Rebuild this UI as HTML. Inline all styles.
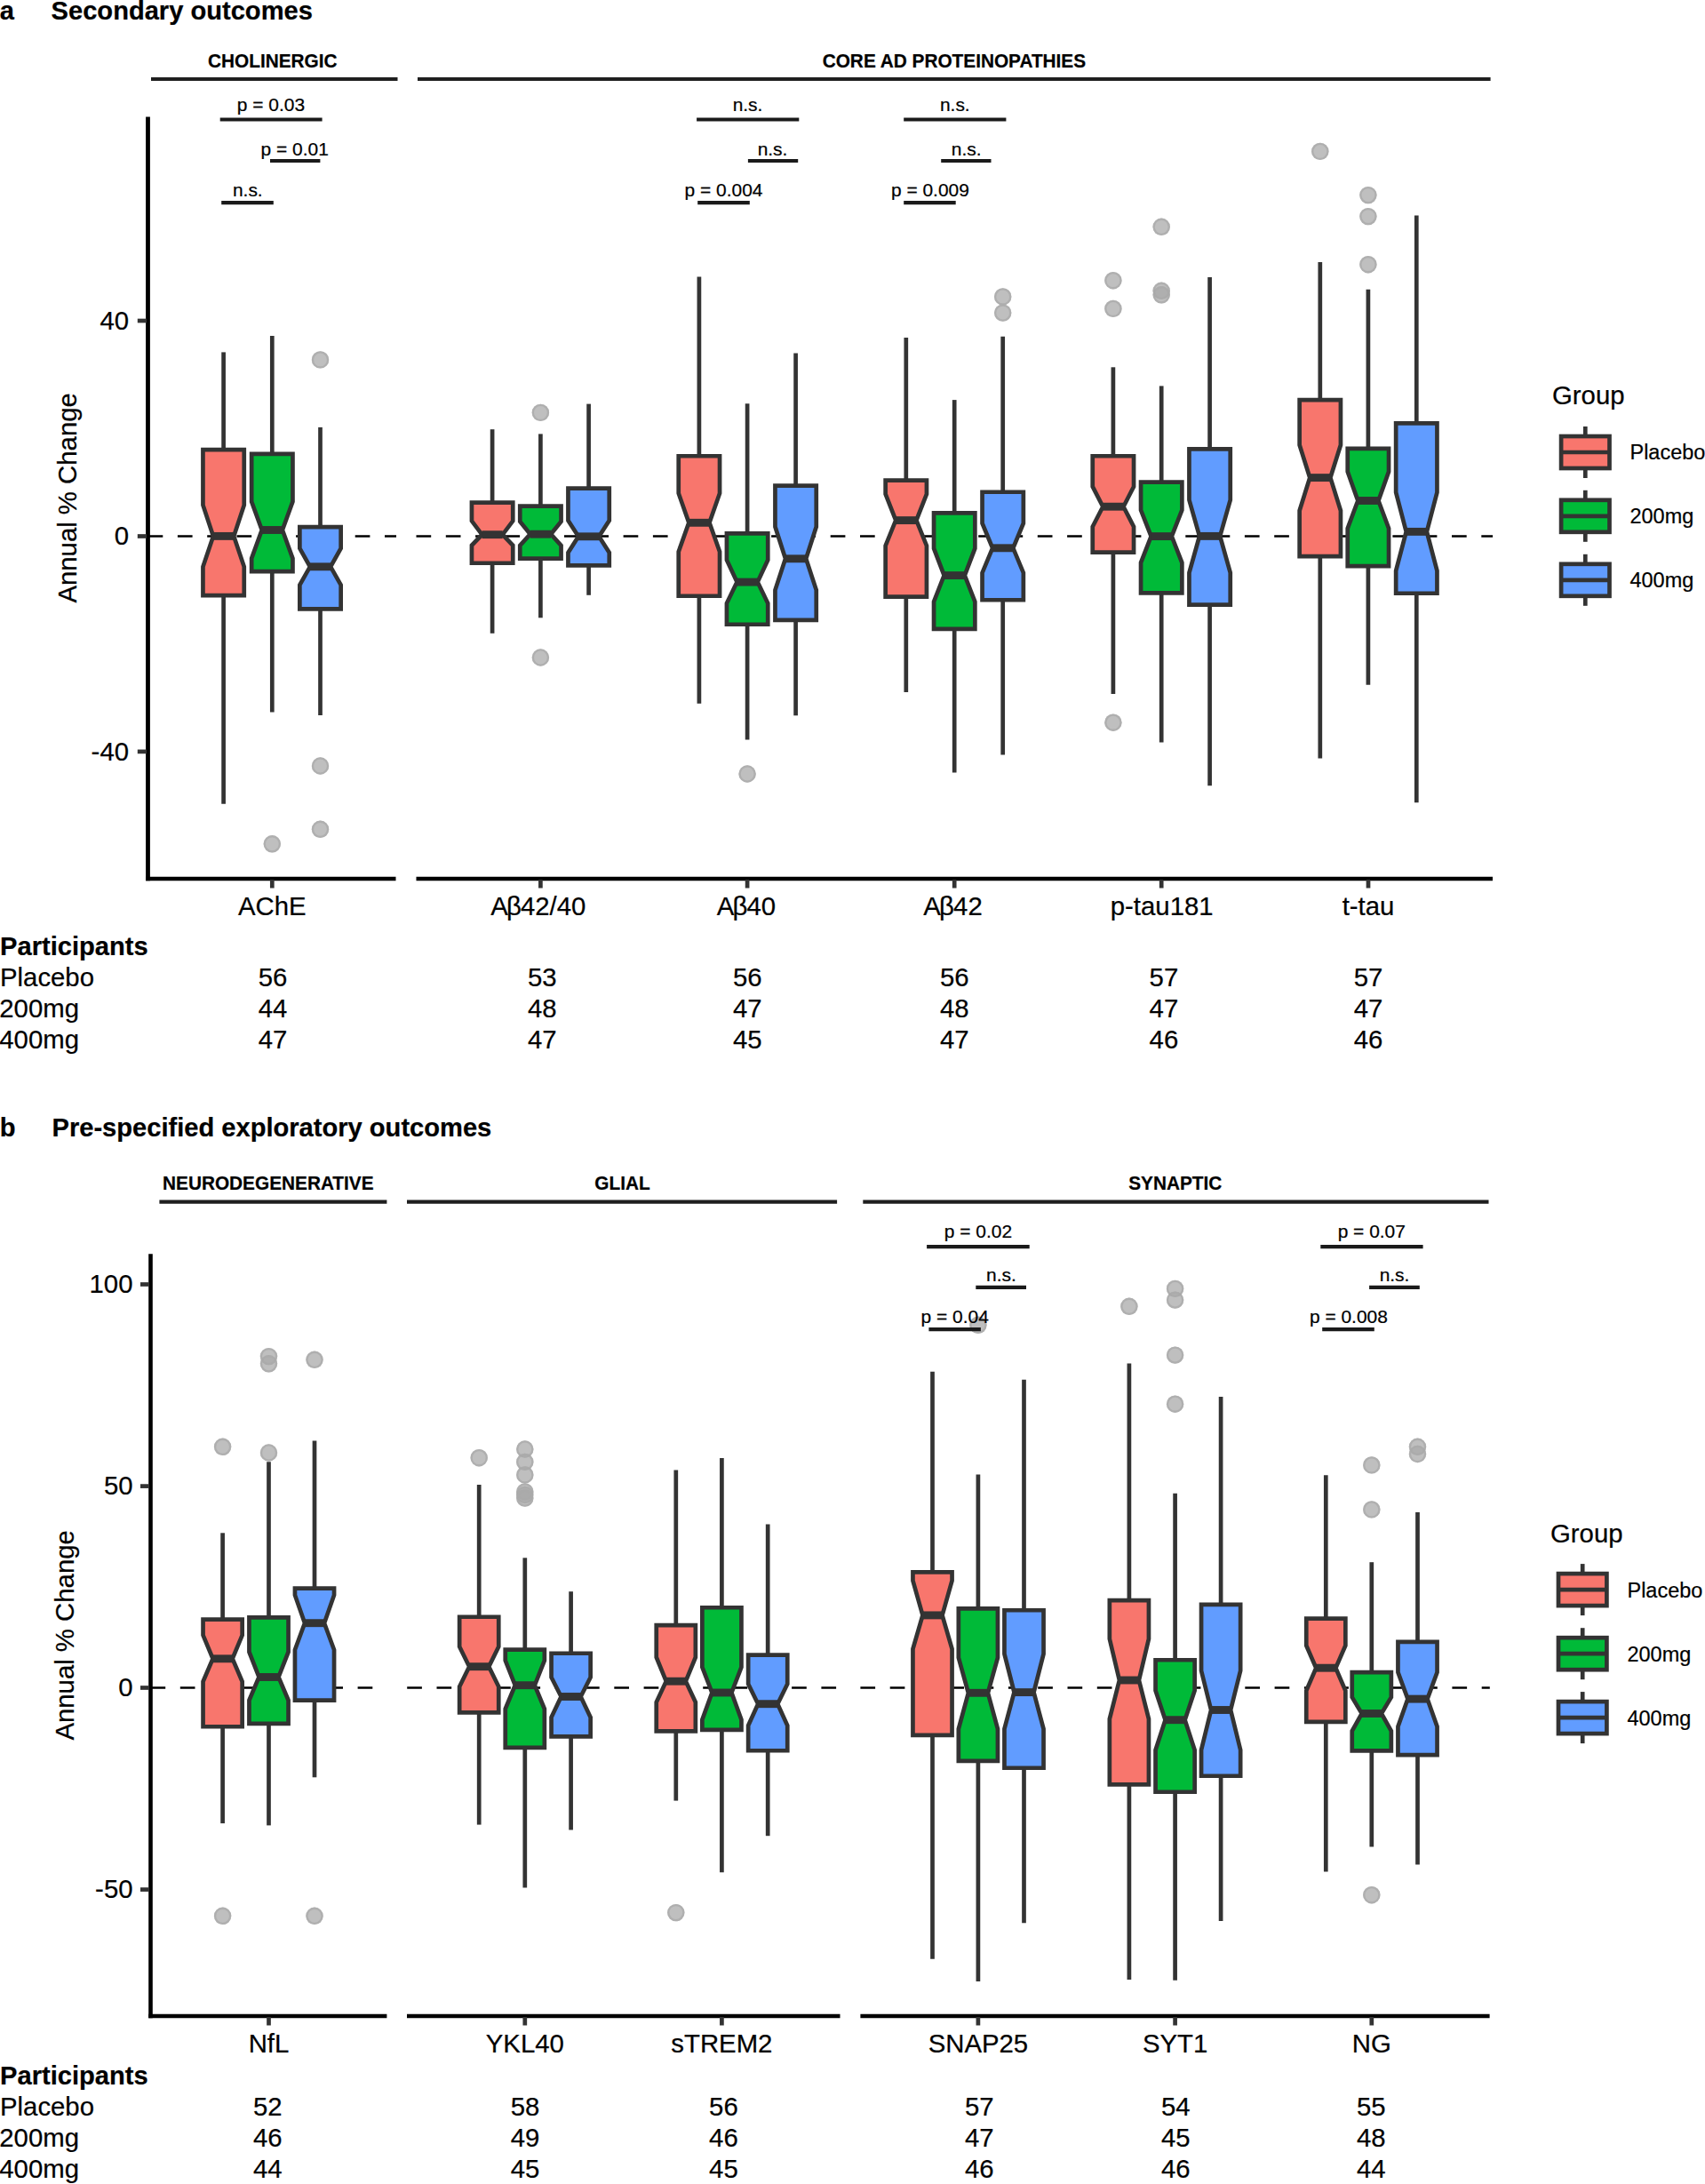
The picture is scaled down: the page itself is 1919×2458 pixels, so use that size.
<!DOCTYPE html>
<html lang="en">
<head>
<meta charset="utf-8">
<title>Annual % change in biomarkers</title>
<style>html,body{margin:0;padding:0;background:#fff}svg{display:block}text{stroke:#000;stroke-width:.22px}</style>
</head>
<body>
<svg width="1919" height="2458" viewBox="0 0 1919 2458" font-family='"Liberation Sans", Arial, Helvetica, sans-serif' fill="#000">
<rect width="1919" height="2458" fill="#fff"/>
<text x="-0.3" y="21.6" font-size="29.1" text-anchor="start" font-weight="bold">a</text>
<text x="57.6" y="21.6" font-size="29.1" text-anchor="start" font-weight="bold">Secondary outcomes</text>
<line x1="170" y1="89" x2="447.5" y2="89" stroke="#1f1f1f" stroke-width="4.1"/>
<line x1="470" y1="89" x2="1677.6" y2="89" stroke="#1f1f1f" stroke-width="4.1"/>
<text transform="translate(306.8 76.2) scale(1 1.085)" font-size="20.8" text-anchor="middle" font-weight="bold" stroke="#000" stroke-width="0.3">CHOLINERGIC</text>
<text transform="translate(1073.9 76.2) scale(1 1.085)" font-size="20.8" text-anchor="middle" font-weight="bold" stroke="#000" stroke-width="0.3">CORE AD PROTEINOPATHIES</text>
<line x1="166.6" y1="603.5" x2="446" y2="603.5" stroke="#000" stroke-width="2.6" stroke-dasharray="16.7 16.6"/>
<line x1="468.5" y1="603.5" x2="1680.1" y2="603.5" stroke="#000" stroke-width="2.6" stroke-dasharray="16.7 16.6"/>
<line x1="251.6" y1="396.4" x2="251.6" y2="506.05" stroke="#333333" stroke-width="4.7"/>
<line x1="251.6" y1="670.15" x2="251.6" y2="904.8" stroke="#333333" stroke-width="4.7"/>
<polygon points="228.45,506.05 274.75,506.05 274.75,568.4 263.18,603.4 274.75,637.8 274.75,670.15 228.45,670.15 228.45,637.8 240.03,603.4 228.45,568.4" fill="#F8766D" stroke="#333333" stroke-width="4.7" stroke-linejoin="miter"/>
<line x1="240.03" y1="603.4" x2="263.18" y2="603.4" stroke="#333333" stroke-width="8.9"/>
<circle cx="306.3" cy="949.8" r="9.7" fill="#aaa" fill-opacity=".75"/><circle cx="306.3" cy="949.8" r="8.55" fill="none" stroke="#aaa" stroke-opacity=".75" stroke-width="2.3"/>
<line x1="306.3" y1="378" x2="306.3" y2="510.95" stroke="#333333" stroke-width="4.7"/>
<line x1="306.3" y1="643.05" x2="306.3" y2="801.6" stroke="#333333" stroke-width="4.7"/>
<polygon points="283.15,510.95 329.45,510.95 329.45,564.6 317.88,596.5 329.45,628.4 329.45,643.05 283.15,643.05 283.15,628.4 294.73,596.5 283.15,564.6" fill="#00BA38" stroke="#333333" stroke-width="4.7" stroke-linejoin="miter"/>
<line x1="294.73" y1="596.5" x2="317.88" y2="596.5" stroke="#333333" stroke-width="8.9"/>
<circle cx="360.5" cy="404.9" r="9.7" fill="#aaa" fill-opacity=".75"/><circle cx="360.5" cy="404.9" r="8.55" fill="none" stroke="#aaa" stroke-opacity=".75" stroke-width="2.3"/>
<circle cx="360.5" cy="862" r="9.7" fill="#aaa" fill-opacity=".75"/><circle cx="360.5" cy="862" r="8.55" fill="none" stroke="#aaa" stroke-opacity=".75" stroke-width="2.3"/>
<circle cx="360.5" cy="933.3" r="9.7" fill="#aaa" fill-opacity=".75"/><circle cx="360.5" cy="933.3" r="8.55" fill="none" stroke="#aaa" stroke-opacity=".75" stroke-width="2.3"/>
<line x1="360.5" y1="480.9" x2="360.5" y2="593.15" stroke="#333333" stroke-width="4.7"/>
<line x1="360.5" y1="685.45" x2="360.5" y2="805" stroke="#333333" stroke-width="4.7"/>
<polygon points="337.35,593.15 383.65,593.15 383.65,617.2 372.07,637.8 383.65,658.4 383.65,685.45 337.35,685.45 337.35,658.4 348.93,637.8 337.35,617.2" fill="#619CFF" stroke="#333333" stroke-width="4.7" stroke-linejoin="miter"/>
<line x1="348.93" y1="637.8" x2="372.07" y2="637.8" stroke="#333333" stroke-width="8.9"/>
<line x1="554.1" y1="483.2" x2="554.1" y2="565.55" stroke="#333333" stroke-width="4.7"/>
<line x1="554.1" y1="633.75" x2="554.1" y2="712.8" stroke="#333333" stroke-width="4.7"/>
<polygon points="530.95,565.55 577.25,565.55 577.25,586.3 565.68,601.7 577.25,613.8 577.25,633.75 530.95,633.75 530.95,613.8 542.52,601.7 530.95,586.3" fill="#F8766D" stroke="#333333" stroke-width="4.7" stroke-linejoin="miter"/>
<line x1="542.52" y1="601.7" x2="565.68" y2="601.7" stroke="#333333" stroke-width="8.9"/>
<circle cx="608.4" cy="464.4" r="9.7" fill="#aaa" fill-opacity=".75"/><circle cx="608.4" cy="464.4" r="8.55" fill="none" stroke="#aaa" stroke-opacity=".75" stroke-width="2.3"/>
<circle cx="608.4" cy="740" r="9.7" fill="#aaa" fill-opacity=".75"/><circle cx="608.4" cy="740" r="8.55" fill="none" stroke="#aaa" stroke-opacity=".75" stroke-width="2.3"/>
<line x1="608.4" y1="488.4" x2="608.4" y2="569.65" stroke="#333333" stroke-width="4.7"/>
<line x1="608.4" y1="628.55" x2="608.4" y2="695.3" stroke="#333333" stroke-width="4.7"/>
<polygon points="585.25,569.65 631.55,569.65 631.55,586.9 619.98,601.2 631.55,613.8 631.55,628.55 585.25,628.55 585.25,613.8 596.82,601.2 585.25,586.9" fill="#00BA38" stroke="#333333" stroke-width="4.7" stroke-linejoin="miter"/>
<line x1="596.82" y1="601.2" x2="619.98" y2="601.2" stroke="#333333" stroke-width="8.9"/>
<line x1="662.6" y1="454.6" x2="662.6" y2="549.65" stroke="#333333" stroke-width="4.7"/>
<line x1="662.6" y1="636.35" x2="662.6" y2="669.8" stroke="#333333" stroke-width="4.7"/>
<polygon points="639.45,549.65 685.75,549.65 685.75,585.7 674.18,603.8 685.75,622 685.75,636.35 639.45,636.35 639.45,622 651.02,603.8 639.45,585.7" fill="#619CFF" stroke="#333333" stroke-width="4.7" stroke-linejoin="miter"/>
<line x1="651.02" y1="603.8" x2="674.18" y2="603.8" stroke="#333333" stroke-width="8.9"/>
<line x1="786.9" y1="311.6" x2="786.9" y2="513.25" stroke="#333333" stroke-width="4.7"/>
<line x1="786.9" y1="670.75" x2="786.9" y2="791.8" stroke="#333333" stroke-width="4.7"/>
<polygon points="763.75,513.25 810.05,513.25 810.05,555.2 798.48,588.3 810.05,620.9 810.05,670.75 763.75,670.75 763.75,620.9 775.32,588.3 763.75,555.2" fill="#F8766D" stroke="#333333" stroke-width="4.7" stroke-linejoin="miter"/>
<line x1="775.32" y1="588.3" x2="798.48" y2="588.3" stroke="#333333" stroke-width="8.9"/>
<circle cx="841.1" cy="871" r="9.7" fill="#aaa" fill-opacity=".75"/><circle cx="841.1" cy="871" r="8.55" fill="none" stroke="#aaa" stroke-opacity=".75" stroke-width="2.3"/>
<line x1="841.1" y1="454.2" x2="841.1" y2="600.35" stroke="#333333" stroke-width="4.7"/>
<line x1="841.1" y1="702.75" x2="841.1" y2="832.4" stroke="#333333" stroke-width="4.7"/>
<polygon points="817.95,600.35 864.25,600.35 864.25,630.3 852.68,655.1 864.25,679.1 864.25,702.75 817.95,702.75 817.95,679.1 829.52,655.1 817.95,630.3" fill="#00BA38" stroke="#333333" stroke-width="4.7" stroke-linejoin="miter"/>
<line x1="829.52" y1="655.1" x2="852.68" y2="655.1" stroke="#333333" stroke-width="8.9"/>
<line x1="895.6" y1="397.6" x2="895.6" y2="546.65" stroke="#333333" stroke-width="4.7"/>
<line x1="895.6" y1="697.85" x2="895.6" y2="805.3" stroke="#333333" stroke-width="4.7"/>
<polygon points="872.45,546.65 918.75,546.65 918.75,592.8 907.18,628.8 918.75,664.1 918.75,697.85 872.45,697.85 872.45,664.1 884.02,628.8 872.45,592.8" fill="#619CFF" stroke="#333333" stroke-width="4.7" stroke-linejoin="miter"/>
<line x1="884.02" y1="628.8" x2="907.18" y2="628.8" stroke="#333333" stroke-width="8.9"/>
<line x1="1019.8" y1="379.9" x2="1019.8" y2="540.65" stroke="#333333" stroke-width="4.7"/>
<line x1="1019.8" y1="671.55" x2="1019.8" y2="779" stroke="#333333" stroke-width="4.7"/>
<polygon points="996.65,540.65 1042.95,540.65 1042.95,556 1031.38,585.6 1042.95,614.2 1042.95,671.55 996.65,671.55 996.65,614.2 1008.22,585.6 996.65,556" fill="#F8766D" stroke="#333333" stroke-width="4.7" stroke-linejoin="miter"/>
<line x1="1008.22" y1="585.6" x2="1031.38" y2="585.6" stroke="#333333" stroke-width="8.9"/>
<line x1="1074.2" y1="450.1" x2="1074.2" y2="577.45" stroke="#333333" stroke-width="4.7"/>
<line x1="1074.2" y1="707.95" x2="1074.2" y2="869.5" stroke="#333333" stroke-width="4.7"/>
<polygon points="1051.05,577.45 1097.35,577.45 1097.35,617.2 1085.78,647.6 1097.35,677.2 1097.35,707.95 1051.05,707.95 1051.05,677.2 1062.62,647.6 1051.05,617.2" fill="#00BA38" stroke="#333333" stroke-width="4.7" stroke-linejoin="miter"/>
<line x1="1062.62" y1="647.6" x2="1085.78" y2="647.6" stroke="#333333" stroke-width="8.9"/>
<circle cx="1128.7" cy="333.9" r="9.7" fill="#aaa" fill-opacity=".75"/><circle cx="1128.7" cy="333.9" r="8.55" fill="none" stroke="#aaa" stroke-opacity=".75" stroke-width="2.3"/>
<circle cx="1128.7" cy="352.1" r="9.7" fill="#aaa" fill-opacity=".75"/><circle cx="1128.7" cy="352.1" r="8.55" fill="none" stroke="#aaa" stroke-opacity=".75" stroke-width="2.3"/>
<line x1="1128.7" y1="378.8" x2="1128.7" y2="553.75" stroke="#333333" stroke-width="4.7"/>
<line x1="1128.7" y1="675.25" x2="1128.7" y2="849.6" stroke="#333333" stroke-width="4.7"/>
<polygon points="1105.55,553.75 1151.85,553.75 1151.85,589 1140.28,616.8 1151.85,644.6 1151.85,675.25 1105.55,675.25 1105.55,644.6 1117.12,616.8 1105.55,589" fill="#619CFF" stroke="#333333" stroke-width="4.7" stroke-linejoin="miter"/>
<line x1="1117.12" y1="616.8" x2="1140.28" y2="616.8" stroke="#333333" stroke-width="8.9"/>
<circle cx="1252.9" cy="315.7" r="9.7" fill="#aaa" fill-opacity=".75"/><circle cx="1252.9" cy="315.7" r="8.55" fill="none" stroke="#aaa" stroke-opacity=".75" stroke-width="2.3"/>
<circle cx="1252.9" cy="347.4" r="9.7" fill="#aaa" fill-opacity=".75"/><circle cx="1252.9" cy="347.4" r="8.55" fill="none" stroke="#aaa" stroke-opacity=".75" stroke-width="2.3"/>
<circle cx="1252.9" cy="813.2" r="9.7" fill="#aaa" fill-opacity=".75"/><circle cx="1252.9" cy="813.2" r="8.55" fill="none" stroke="#aaa" stroke-opacity=".75" stroke-width="2.3"/>
<line x1="1252.9" y1="413.3" x2="1252.9" y2="513.25" stroke="#333333" stroke-width="4.7"/>
<line x1="1252.9" y1="621.65" x2="1252.9" y2="780.9" stroke="#333333" stroke-width="4.7"/>
<polygon points="1229.75,513.25 1276.05,513.25 1276.05,547.7 1264.48,570.2 1276.05,592.8 1276.05,621.65 1229.75,621.65 1229.75,592.8 1241.33,570.2 1229.75,547.7" fill="#F8766D" stroke="#333333" stroke-width="4.7" stroke-linejoin="miter"/>
<line x1="1241.33" y1="570.2" x2="1264.48" y2="570.2" stroke="#333333" stroke-width="8.9"/>
<circle cx="1307.2" cy="255.3" r="9.7" fill="#aaa" fill-opacity=".75"/><circle cx="1307.2" cy="255.3" r="8.55" fill="none" stroke="#aaa" stroke-opacity=".75" stroke-width="2.3"/>
<circle cx="1307.2" cy="327.3" r="9.7" fill="#aaa" fill-opacity=".75"/><circle cx="1307.2" cy="327.3" r="8.55" fill="none" stroke="#aaa" stroke-opacity=".75" stroke-width="2.3"/>
<circle cx="1307.2" cy="331.8" r="9.7" fill="#aaa" fill-opacity=".75"/><circle cx="1307.2" cy="331.8" r="8.55" fill="none" stroke="#aaa" stroke-opacity=".75" stroke-width="2.3"/>
<line x1="1307.2" y1="434.4" x2="1307.2" y2="542.55" stroke="#333333" stroke-width="4.7"/>
<line x1="1307.2" y1="667.45" x2="1307.2" y2="835.4" stroke="#333333" stroke-width="4.7"/>
<polygon points="1284.05,542.55 1330.35,542.55 1330.35,574 1318.78,603.6 1330.35,633.3 1330.35,667.45 1284.05,667.45 1284.05,633.3 1295.62,603.6 1284.05,574" fill="#00BA38" stroke="#333333" stroke-width="4.7" stroke-linejoin="miter"/>
<line x1="1295.62" y1="603.6" x2="1318.78" y2="603.6" stroke="#333333" stroke-width="8.9"/>
<line x1="1361.6" y1="311.9" x2="1361.6" y2="505.35" stroke="#333333" stroke-width="4.7"/>
<line x1="1361.6" y1="680.55" x2="1361.6" y2="884.2" stroke="#333333" stroke-width="4.7"/>
<polygon points="1338.45,505.35 1384.75,505.35 1384.75,562.7 1373.17,603.4 1384.75,644.6 1384.75,680.55 1338.45,680.55 1338.45,644.6 1350.02,603.4 1338.45,562.7" fill="#619CFF" stroke="#333333" stroke-width="4.7" stroke-linejoin="miter"/>
<line x1="1350.02" y1="603.4" x2="1373.17" y2="603.4" stroke="#333333" stroke-width="8.9"/>
<circle cx="1485.8" cy="170.4" r="9.7" fill="#aaa" fill-opacity=".75"/><circle cx="1485.8" cy="170.4" r="8.55" fill="none" stroke="#aaa" stroke-opacity=".75" stroke-width="2.3"/>
<line x1="1485.8" y1="295" x2="1485.8" y2="450.15" stroke="#333333" stroke-width="4.7"/>
<line x1="1485.8" y1="626.15" x2="1485.8" y2="853.4" stroke="#333333" stroke-width="4.7"/>
<polygon points="1462.65,450.15 1508.95,450.15 1508.95,500.8 1497.38,537.6 1508.95,574.7 1508.95,626.15 1462.65,626.15 1462.65,574.7 1474.22,537.6 1462.65,500.8" fill="#F8766D" stroke="#333333" stroke-width="4.7" stroke-linejoin="miter"/>
<line x1="1474.22" y1="537.6" x2="1497.38" y2="537.6" stroke="#333333" stroke-width="8.9"/>
<circle cx="1539.9" cy="219.6" r="9.7" fill="#aaa" fill-opacity=".75"/><circle cx="1539.9" cy="219.6" r="8.55" fill="none" stroke="#aaa" stroke-opacity=".75" stroke-width="2.3"/>
<circle cx="1539.9" cy="243.6" r="9.7" fill="#aaa" fill-opacity=".75"/><circle cx="1539.9" cy="243.6" r="8.55" fill="none" stroke="#aaa" stroke-opacity=".75" stroke-width="2.3"/>
<circle cx="1539.9" cy="297.7" r="9.7" fill="#aaa" fill-opacity=".75"/><circle cx="1539.9" cy="297.7" r="8.55" fill="none" stroke="#aaa" stroke-opacity=".75" stroke-width="2.3"/>
<line x1="1539.9" y1="325.8" x2="1539.9" y2="504.95" stroke="#333333" stroke-width="4.7"/>
<line x1="1539.9" y1="637.05" x2="1539.9" y2="770.8" stroke="#333333" stroke-width="4.7"/>
<polygon points="1516.75,504.95 1563.05,504.95 1563.05,530.8 1551.48,563.5 1563.05,594.6 1563.05,637.05 1516.75,637.05 1516.75,594.6 1528.33,563.5 1516.75,530.8" fill="#00BA38" stroke="#333333" stroke-width="4.7" stroke-linejoin="miter"/>
<line x1="1528.33" y1="563.5" x2="1551.48" y2="563.5" stroke="#333333" stroke-width="8.9"/>
<line x1="1594.3" y1="242.5" x2="1594.3" y2="476.45" stroke="#333333" stroke-width="4.7"/>
<line x1="1594.3" y1="667.75" x2="1594.3" y2="903.3" stroke="#333333" stroke-width="4.7"/>
<polygon points="1571.15,476.45 1617.45,476.45 1617.45,554.1 1605.88,598.4 1617.45,642.3 1617.45,667.75 1571.15,667.75 1571.15,642.3 1582.72,598.4 1571.15,554.1" fill="#619CFF" stroke="#333333" stroke-width="4.7" stroke-linejoin="miter"/>
<line x1="1582.72" y1="598.4" x2="1605.88" y2="598.4" stroke="#333333" stroke-width="8.9"/>
<line x1="166.5" y1="131.4" x2="166.5" y2="991.3" stroke="#000" stroke-width="4.8"/>
<line x1="164.2" y1="989" x2="445.5" y2="989" stroke="#000" stroke-width="4.7"/>
<line x1="468.5" y1="989" x2="1680" y2="989" stroke="#000" stroke-width="4.7"/>
<line x1="154.8" y1="361" x2="165" y2="361" stroke="#333333" stroke-width="4.7"/>
<text x="145" y="370.8" font-size="29.33" text-anchor="end">40</text>
<line x1="154.8" y1="603.5" x2="165" y2="603.5" stroke="#333333" stroke-width="4.7"/>
<text x="145" y="613.3" font-size="29.33" text-anchor="end">0</text>
<line x1="154.8" y1="845.9" x2="165" y2="845.9" stroke="#333333" stroke-width="4.7"/>
<text x="145" y="855.7" font-size="29.33" text-anchor="end">-40</text>
<line x1="306.3" y1="990" x2="306.3" y2="999.5" stroke="#333333" stroke-width="4.7"/>
<text x="306.3" y="1030.2" font-size="29.33" text-anchor="middle">AChE</text>
<line x1="608.4" y1="990" x2="608.4" y2="999.5" stroke="#333333" stroke-width="4.7"/>
<text x="552.25" y="1030.2" font-size="29.33" text-anchor="start">A<tspan dx="-1.8">β</tspan><tspan dx="-0.9">42/40</tspan></text>
<line x1="841.1" y1="990" x2="841.1" y2="999.5" stroke="#333333" stroke-width="4.7"/>
<text x="806.65" y="1030.2" font-size="29.33" text-anchor="start">A<tspan dx="-1.8">β</tspan><tspan dx="-0.9">40</tspan></text>
<line x1="1074.2" y1="990" x2="1074.2" y2="999.5" stroke="#333333" stroke-width="4.7"/>
<text x="1039.35" y="1030.2" font-size="29.33" text-anchor="start">A<tspan dx="-1.8">β</tspan><tspan dx="-0.9">42</tspan></text>
<line x1="1307.2" y1="990" x2="1307.2" y2="999.5" stroke="#333333" stroke-width="4.7"/>
<text x="1307.7" y="1030.2" font-size="29.33" text-anchor="middle">p-tau181</text>
<line x1="1540" y1="990" x2="1540" y2="999.5" stroke="#333333" stroke-width="4.7"/>
<text x="1540" y="1030.2" font-size="29.33" text-anchor="middle">t-tau</text>
<text transform="translate(85.8 560.4) rotate(-90)" font-size="29.33" text-anchor="middle">Annual % Change</text>
<line x1="247.7" y1="134.5" x2="362.6" y2="134.5" stroke="#1a1a1a" stroke-width="4.2"/>
<text x="305" y="124.8" font-size="20.95" text-anchor="middle">p = 0.03</text>
<line x1="304" y1="181" x2="360.4" y2="181" stroke="#1a1a1a" stroke-width="4.2"/>
<text x="331.7" y="174.5" font-size="20.95" text-anchor="middle">p = 0.01</text>
<line x1="249.2" y1="228.2" x2="307.8" y2="228.2" stroke="#1a1a1a" stroke-width="4.2"/>
<text x="278.8" y="220.7" font-size="20.95" text-anchor="middle">n.s.</text>
<line x1="784.1" y1="134.5" x2="899.3" y2="134.5" stroke="#1a1a1a" stroke-width="4.2"/>
<text x="841.5" y="124.8" font-size="20.95" text-anchor="middle">n.s.</text>
<line x1="841.9" y1="181" x2="898.2" y2="181" stroke="#1a1a1a" stroke-width="4.2"/>
<text x="869.5" y="174.5" font-size="20.95" text-anchor="middle">n.s.</text>
<line x1="785.2" y1="228.2" x2="843.8" y2="228.2" stroke="#1a1a1a" stroke-width="4.2"/>
<text x="814.5" y="220.7" font-size="20.95" text-anchor="middle">p = 0.004</text>
<line x1="1017.2" y1="134.5" x2="1132.4" y2="134.5" stroke="#1a1a1a" stroke-width="4.2"/>
<text x="1074.8" y="124.8" font-size="20.95" text-anchor="middle">n.s.</text>
<line x1="1059.2" y1="181" x2="1115.5" y2="181" stroke="#1a1a1a" stroke-width="4.2"/>
<text x="1087.7" y="174.5" font-size="20.95" text-anchor="middle">n.s.</text>
<line x1="1017.2" y1="228.2" x2="1075.7" y2="228.2" stroke="#1a1a1a" stroke-width="4.2"/>
<text x="1046.9" y="220.7" font-size="20.95" text-anchor="middle">p = 0.009</text>
<text x="0.1" y="1074.7" font-size="29.1" text-anchor="start" font-weight="bold">Participants</text>
<text x="0" y="1110" font-size="29.33" text-anchor="start">Placebo</text>
<text x="307" y="1110" font-size="29.33" text-anchor="middle">56</text>
<text x="610.3" y="1110" font-size="29.33" text-anchor="middle">53</text>
<text x="841.3" y="1110" font-size="29.33" text-anchor="middle">56</text>
<text x="1074.3" y="1110" font-size="29.33" text-anchor="middle">56</text>
<text x="1309.9" y="1110" font-size="29.33" text-anchor="middle">57</text>
<text x="1540.1" y="1110" font-size="29.33" text-anchor="middle">57</text>
<text x="-0.7" y="1144.9" font-size="29.33" text-anchor="start">200mg</text>
<text x="307" y="1144.9" font-size="29.33" text-anchor="middle">44</text>
<text x="610.3" y="1144.9" font-size="29.33" text-anchor="middle">48</text>
<text x="841.3" y="1144.9" font-size="29.33" text-anchor="middle">47</text>
<text x="1074.3" y="1144.9" font-size="29.33" text-anchor="middle">48</text>
<text x="1309.9" y="1144.9" font-size="29.33" text-anchor="middle">47</text>
<text x="1540.1" y="1144.9" font-size="29.33" text-anchor="middle">47</text>
<text x="-0.7" y="1179.8" font-size="29.33" text-anchor="start">400mg</text>
<text x="307" y="1179.8" font-size="29.33" text-anchor="middle">47</text>
<text x="610.3" y="1179.8" font-size="29.33" text-anchor="middle">47</text>
<text x="841.3" y="1179.8" font-size="29.33" text-anchor="middle">45</text>
<text x="1074.3" y="1179.8" font-size="29.33" text-anchor="middle">47</text>
<text x="1309.9" y="1179.8" font-size="29.33" text-anchor="middle">46</text>
<text x="1540.1" y="1179.8" font-size="29.33" text-anchor="middle">46</text>
<text x="1747" y="454.6" font-size="29.33" text-anchor="start">Group</text>
<line x1="1784.3" y1="480" x2="1784.3" y2="538" stroke="#333333" stroke-width="4.7"/>
<rect x="1757.1" y="491" width="54.4" height="36" fill="#F8766D" stroke="#333333" stroke-width="4.7"/>
<line x1="1757.1" y1="509" x2="1811.5" y2="509" stroke="#333333" stroke-width="4.7"/>
<text x="1834.5" y="517.4" font-size="23.47" text-anchor="start">Placebo</text>
<line x1="1784.3" y1="551.8" x2="1784.3" y2="609.8" stroke="#333333" stroke-width="4.7"/>
<rect x="1757.1" y="562.8" width="54.4" height="36" fill="#00BA38" stroke="#333333" stroke-width="4.7"/>
<line x1="1757.1" y1="580.8" x2="1811.5" y2="580.8" stroke="#333333" stroke-width="4.7"/>
<text x="1834.5" y="589.2" font-size="23.47" text-anchor="start">200mg</text>
<line x1="1784.3" y1="623.8" x2="1784.3" y2="681.8" stroke="#333333" stroke-width="4.7"/>
<rect x="1757.1" y="634.8" width="54.4" height="36" fill="#619CFF" stroke="#333333" stroke-width="4.7"/>
<line x1="1757.1" y1="652.8" x2="1811.5" y2="652.8" stroke="#333333" stroke-width="4.7"/>
<text x="1834.5" y="661.2" font-size="23.47" text-anchor="start">400mg</text>
<text x="-0.3" y="1279" font-size="29.1" text-anchor="start" font-weight="bold">b</text>
<text x="58.5" y="1279" font-size="29.1" text-anchor="start" font-weight="bold">Pre-specified exploratory outcomes</text>
<line x1="179.4" y1="1352.6" x2="435.4" y2="1352.6" stroke="#1f1f1f" stroke-width="4.1"/>
<line x1="458" y1="1352.6" x2="942.1" y2="1352.6" stroke="#1f1f1f" stroke-width="4.1"/>
<line x1="971.3" y1="1352.6" x2="1675.5" y2="1352.6" stroke="#1f1f1f" stroke-width="4.1"/>
<text transform="translate(301.8 1339.1) scale(1 1.085)" font-size="20.8" text-anchor="middle" font-weight="bold" stroke="#000" stroke-width="0.3">NEURODEGENERATIVE</text>
<text transform="translate(700.5 1339.1) scale(1 1.085)" font-size="20.8" text-anchor="middle" font-weight="bold" stroke="#000" stroke-width="0.3">GLIAL</text>
<text transform="translate(1322.8 1339.1) scale(1 1.085)" font-size="20.8" text-anchor="middle" font-weight="bold" stroke="#000" stroke-width="0.3">SYNAPTIC</text>
<line x1="169.5" y1="1899.5" x2="435.6" y2="1899.5" stroke="#000" stroke-width="2.6" stroke-dasharray="16.7 16.6"/>
<line x1="458.2" y1="1899.5" x2="945.6" y2="1899.5" stroke="#000" stroke-width="2.6" stroke-dasharray="16.7 16.6"/>
<line x1="968.4" y1="1899.5" x2="1676.8" y2="1899.5" stroke="#000" stroke-width="2.6" stroke-dasharray="16.7 16.6"/>
<circle cx="250.6" cy="1628.3" r="9.7" fill="#aaa" fill-opacity=".75"/><circle cx="250.6" cy="1628.3" r="8.55" fill="none" stroke="#aaa" stroke-opacity=".75" stroke-width="2.3"/>
<circle cx="250.6" cy="2156.3" r="9.7" fill="#aaa" fill-opacity=".75"/><circle cx="250.6" cy="2156.3" r="8.55" fill="none" stroke="#aaa" stroke-opacity=".75" stroke-width="2.3"/>
<line x1="250.6" y1="1725.3" x2="250.6" y2="1822.55" stroke="#333333" stroke-width="4.7"/>
<line x1="250.6" y1="1943.25" x2="250.6" y2="2052.1" stroke="#333333" stroke-width="4.7"/>
<polygon points="228.55,1822.55 272.65,1822.55 272.65,1840.4 261.62,1866.8 272.65,1892.5 272.65,1943.25 228.55,1943.25 228.55,1892.5 239.57,1866.8 228.55,1840.4" fill="#F8766D" stroke="#333333" stroke-width="4.7" stroke-linejoin="miter"/>
<line x1="239.57" y1="1866.8" x2="261.62" y2="1866.8" stroke="#333333" stroke-width="8.9"/>
<circle cx="302.5" cy="1526.6" r="9.7" fill="#aaa" fill-opacity=".75"/><circle cx="302.5" cy="1526.6" r="8.55" fill="none" stroke="#aaa" stroke-opacity=".75" stroke-width="2.3"/>
<circle cx="302.5" cy="1534.8" r="9.7" fill="#aaa" fill-opacity=".75"/><circle cx="302.5" cy="1534.8" r="8.55" fill="none" stroke="#aaa" stroke-opacity=".75" stroke-width="2.3"/>
<circle cx="302.5" cy="1635" r="9.7" fill="#aaa" fill-opacity=".75"/><circle cx="302.5" cy="1635" r="8.55" fill="none" stroke="#aaa" stroke-opacity=".75" stroke-width="2.3"/>
<line x1="302.5" y1="1645.2" x2="302.5" y2="1820.45" stroke="#333333" stroke-width="4.7"/>
<line x1="302.5" y1="1939.85" x2="302.5" y2="2054.4" stroke="#333333" stroke-width="4.7"/>
<polygon points="280.45,1820.45 324.55,1820.45 324.55,1859.2 313.52,1887.5 324.55,1913.5 324.55,1939.85 280.45,1939.85 280.45,1913.5 291.48,1887.5 280.45,1859.2" fill="#00BA38" stroke="#333333" stroke-width="4.7" stroke-linejoin="miter"/>
<line x1="291.48" y1="1887.5" x2="313.52" y2="1887.5" stroke="#333333" stroke-width="8.9"/>
<circle cx="354" cy="1530.3" r="9.7" fill="#aaa" fill-opacity=".75"/><circle cx="354" cy="1530.3" r="8.55" fill="none" stroke="#aaa" stroke-opacity=".75" stroke-width="2.3"/>
<circle cx="354" cy="2156.3" r="9.7" fill="#aaa" fill-opacity=".75"/><circle cx="354" cy="2156.3" r="8.55" fill="none" stroke="#aaa" stroke-opacity=".75" stroke-width="2.3"/>
<line x1="354" y1="1621.5" x2="354" y2="1787.55" stroke="#333333" stroke-width="4.7"/>
<line x1="354" y1="1913.65" x2="354" y2="2000.3" stroke="#333333" stroke-width="4.7"/>
<polygon points="331.95,1787.55 376.05,1787.55 376.05,1795.2 365.02,1826.7 376.05,1856.8 376.05,1913.65 331.95,1913.65 331.95,1856.8 342.98,1826.7 331.95,1795.2" fill="#619CFF" stroke="#333333" stroke-width="4.7" stroke-linejoin="miter"/>
<line x1="342.98" y1="1826.7" x2="365.02" y2="1826.7" stroke="#333333" stroke-width="8.9"/>
<circle cx="539.2" cy="1640.7" r="9.7" fill="#aaa" fill-opacity=".75"/><circle cx="539.2" cy="1640.7" r="8.55" fill="none" stroke="#aaa" stroke-opacity=".75" stroke-width="2.3"/>
<line x1="539.2" y1="1671.1" x2="539.2" y2="1819.75" stroke="#333333" stroke-width="4.7"/>
<line x1="539.2" y1="1927.45" x2="539.2" y2="2053.6" stroke="#333333" stroke-width="4.7"/>
<polygon points="517.15,1819.75 561.25,1819.75 561.25,1853.2 550.23,1875.7 561.25,1898.2 561.25,1927.45 517.15,1927.45 517.15,1898.2 528.18,1875.7 517.15,1853.2" fill="#F8766D" stroke="#333333" stroke-width="4.7" stroke-linejoin="miter"/>
<line x1="528.18" y1="1875.7" x2="550.23" y2="1875.7" stroke="#333333" stroke-width="8.9"/>
<circle cx="590.8" cy="1631" r="9.7" fill="#aaa" fill-opacity=".75"/><circle cx="590.8" cy="1631" r="8.55" fill="none" stroke="#aaa" stroke-opacity=".75" stroke-width="2.3"/>
<circle cx="590.8" cy="1645.4" r="9.7" fill="#aaa" fill-opacity=".75"/><circle cx="590.8" cy="1645.4" r="8.55" fill="none" stroke="#aaa" stroke-opacity=".75" stroke-width="2.3"/>
<circle cx="590.8" cy="1659.9" r="9.7" fill="#aaa" fill-opacity=".75"/><circle cx="590.8" cy="1659.9" r="8.55" fill="none" stroke="#aaa" stroke-opacity=".75" stroke-width="2.3"/>
<circle cx="590.8" cy="1678.9" r="9.7" fill="#aaa" fill-opacity=".75"/><circle cx="590.8" cy="1678.9" r="8.55" fill="none" stroke="#aaa" stroke-opacity=".75" stroke-width="2.3"/>
<circle cx="590.8" cy="1682.5" r="9.7" fill="#aaa" fill-opacity=".75"/><circle cx="590.8" cy="1682.5" r="8.55" fill="none" stroke="#aaa" stroke-opacity=".75" stroke-width="2.3"/>
<circle cx="590.8" cy="1686.1" r="9.7" fill="#aaa" fill-opacity=".75"/><circle cx="590.8" cy="1686.1" r="8.55" fill="none" stroke="#aaa" stroke-opacity=".75" stroke-width="2.3"/>
<line x1="590.8" y1="1753.3" x2="590.8" y2="1856.55" stroke="#333333" stroke-width="4.7"/>
<line x1="590.8" y1="1966.85" x2="590.8" y2="2124.4" stroke="#333333" stroke-width="4.7"/>
<polygon points="568.75,1856.55 612.85,1856.55 612.85,1868.9 601.82,1896.7 612.85,1923.3 612.85,1966.85 568.75,1966.85 568.75,1923.3 579.77,1896.7 568.75,1868.9" fill="#00BA38" stroke="#333333" stroke-width="4.7" stroke-linejoin="miter"/>
<line x1="579.77" y1="1896.7" x2="601.82" y2="1896.7" stroke="#333333" stroke-width="8.9"/>
<line x1="642.6" y1="1791.2" x2="642.6" y2="1860.75" stroke="#333333" stroke-width="4.7"/>
<line x1="642.6" y1="1954.45" x2="642.6" y2="2059.5" stroke="#333333" stroke-width="4.7"/>
<polygon points="620.55,1860.75 664.65,1860.75 664.65,1887.7 653.62,1909.5 664.65,1932.7 664.65,1954.45 620.55,1954.45 620.55,1932.7 631.58,1909.5 620.55,1887.7" fill="#619CFF" stroke="#333333" stroke-width="4.7" stroke-linejoin="miter"/>
<line x1="631.58" y1="1909.5" x2="653.62" y2="1909.5" stroke="#333333" stroke-width="8.9"/>
<circle cx="760.8" cy="2152.6" r="9.7" fill="#aaa" fill-opacity=".75"/><circle cx="760.8" cy="2152.6" r="8.55" fill="none" stroke="#aaa" stroke-opacity=".75" stroke-width="2.3"/>
<line x1="760.8" y1="1654.6" x2="760.8" y2="1829.15" stroke="#333333" stroke-width="4.7"/>
<line x1="760.8" y1="1948.45" x2="760.8" y2="2026.6" stroke="#333333" stroke-width="4.7"/>
<polygon points="738.75,1829.15 782.85,1829.15 782.85,1865.2 771.82,1892.2 782.85,1915.8 782.85,1948.45 738.75,1948.45 738.75,1915.8 749.77,1892.2 738.75,1865.2" fill="#F8766D" stroke="#333333" stroke-width="4.7" stroke-linejoin="miter"/>
<line x1="749.77" y1="1892.2" x2="771.82" y2="1892.2" stroke="#333333" stroke-width="8.9"/>
<line x1="812.4" y1="1641" x2="812.4" y2="1809.25" stroke="#333333" stroke-width="4.7"/>
<line x1="812.4" y1="1946.95" x2="812.4" y2="2107.2" stroke="#333333" stroke-width="4.7"/>
<polygon points="790.35,1809.25 834.45,1809.25 834.45,1876.4 823.42,1905 834.45,1935.4 834.45,1946.95 790.35,1946.95 790.35,1935.4 801.38,1905 790.35,1876.4" fill="#00BA38" stroke="#333333" stroke-width="4.7" stroke-linejoin="miter"/>
<line x1="801.38" y1="1905" x2="823.42" y2="1905" stroke="#333333" stroke-width="8.9"/>
<line x1="864.2" y1="1715.4" x2="864.2" y2="1862.55" stroke="#333333" stroke-width="4.7"/>
<line x1="864.2" y1="1970.25" x2="864.2" y2="2066.2" stroke="#333333" stroke-width="4.7"/>
<polygon points="842.15,1862.55 886.25,1862.55 886.25,1895.2 875.23,1917.7 886.25,1942.1 886.25,1970.25 842.15,1970.25 842.15,1942.1 853.18,1917.7 842.15,1895.2" fill="#619CFF" stroke="#333333" stroke-width="4.7" stroke-linejoin="miter"/>
<line x1="853.18" y1="1917.7" x2="875.23" y2="1917.7" stroke="#333333" stroke-width="8.9"/>
<line x1="1049.5" y1="1543.8" x2="1049.5" y2="1769.45" stroke="#333333" stroke-width="4.7"/>
<line x1="1049.5" y1="1952.95" x2="1049.5" y2="2204.8" stroke="#333333" stroke-width="4.7"/>
<polygon points="1027.45,1769.45 1071.55,1769.45 1071.55,1778.9 1060.53,1817.9 1071.55,1855.8 1071.55,1952.95 1027.45,1952.95 1027.45,1855.8 1038.47,1817.9 1027.45,1778.9" fill="#F8766D" stroke="#333333" stroke-width="4.7" stroke-linejoin="miter"/>
<line x1="1038.47" y1="1817.9" x2="1060.53" y2="1817.9" stroke="#333333" stroke-width="8.9"/>
<circle cx="1100.9" cy="1491.3" r="9.7" fill="#aaa" fill-opacity=".75"/><circle cx="1100.9" cy="1491.3" r="8.55" fill="none" stroke="#aaa" stroke-opacity=".75" stroke-width="2.3"/>
<line x1="1100.9" y1="1659.4" x2="1100.9" y2="1810.45" stroke="#333333" stroke-width="4.7"/>
<line x1="1100.9" y1="1981.85" x2="1100.9" y2="2229.9" stroke="#333333" stroke-width="4.7"/>
<polygon points="1078.85,1810.45 1122.95,1810.45 1122.95,1865.6 1111.93,1905.3 1122.95,1945.9 1122.95,1981.85 1078.85,1981.85 1078.85,1945.9 1089.88,1905.3 1078.85,1865.6" fill="#00BA38" stroke="#333333" stroke-width="4.7" stroke-linejoin="miter"/>
<line x1="1089.88" y1="1905.3" x2="1111.93" y2="1905.3" stroke="#333333" stroke-width="8.9"/>
<line x1="1152.5" y1="1552.8" x2="1152.5" y2="1812.25" stroke="#333333" stroke-width="4.7"/>
<line x1="1152.5" y1="1989.75" x2="1152.5" y2="2164.2" stroke="#333333" stroke-width="4.7"/>
<polygon points="1130.45,1812.25 1174.55,1812.25 1174.55,1861.4 1163.53,1904.6 1174.55,1945.9 1174.55,1989.75 1130.45,1989.75 1130.45,1945.9 1141.47,1904.6 1130.45,1861.4" fill="#619CFF" stroke="#333333" stroke-width="4.7" stroke-linejoin="miter"/>
<line x1="1141.47" y1="1904.6" x2="1163.53" y2="1904.6" stroke="#333333" stroke-width="8.9"/>
<circle cx="1270.9" cy="1470.3" r="9.7" fill="#aaa" fill-opacity=".75"/><circle cx="1270.9" cy="1470.3" r="8.55" fill="none" stroke="#aaa" stroke-opacity=".75" stroke-width="2.3"/>
<line x1="1270.9" y1="1534.4" x2="1270.9" y2="1801.05" stroke="#333333" stroke-width="4.7"/>
<line x1="1270.9" y1="2008.45" x2="1270.9" y2="2228" stroke="#333333" stroke-width="4.7"/>
<polygon points="1248.85,1801.05 1292.95,1801.05 1292.95,1844.5 1281.93,1891 1292.95,1934.6 1292.95,2008.45 1248.85,2008.45 1248.85,1934.6 1259.88,1891 1248.85,1844.5" fill="#F8766D" stroke="#333333" stroke-width="4.7" stroke-linejoin="miter"/>
<line x1="1259.88" y1="1891" x2="1281.93" y2="1891" stroke="#333333" stroke-width="8.9"/>
<circle cx="1322.6" cy="1450.4" r="9.7" fill="#aaa" fill-opacity=".75"/><circle cx="1322.6" cy="1450.4" r="8.55" fill="none" stroke="#aaa" stroke-opacity=".75" stroke-width="2.3"/>
<circle cx="1322.6" cy="1463.1" r="9.7" fill="#aaa" fill-opacity=".75"/><circle cx="1322.6" cy="1463.1" r="8.55" fill="none" stroke="#aaa" stroke-opacity=".75" stroke-width="2.3"/>
<circle cx="1322.6" cy="1525.1" r="9.7" fill="#aaa" fill-opacity=".75"/><circle cx="1322.6" cy="1525.1" r="8.55" fill="none" stroke="#aaa" stroke-opacity=".75" stroke-width="2.3"/>
<circle cx="1322.6" cy="1580.2" r="9.7" fill="#aaa" fill-opacity=".75"/><circle cx="1322.6" cy="1580.2" r="8.55" fill="none" stroke="#aaa" stroke-opacity=".75" stroke-width="2.3"/>
<line x1="1322.6" y1="1680.8" x2="1322.6" y2="1868.25" stroke="#333333" stroke-width="4.7"/>
<line x1="1322.6" y1="2016.75" x2="1322.6" y2="2228.8" stroke="#333333" stroke-width="4.7"/>
<polygon points="1300.55,1868.25 1344.65,1868.25 1344.65,1902.7 1333.62,1935.7 1344.65,1969.5 1344.65,2016.75 1300.55,2016.75 1300.55,1969.5 1311.57,1935.7 1300.55,1902.7" fill="#00BA38" stroke="#333333" stroke-width="4.7" stroke-linejoin="miter"/>
<line x1="1311.57" y1="1935.7" x2="1333.62" y2="1935.7" stroke="#333333" stroke-width="8.9"/>
<line x1="1374.1" y1="1572" x2="1374.1" y2="1805.95" stroke="#333333" stroke-width="4.7"/>
<line x1="1374.1" y1="1998.75" x2="1374.1" y2="2162" stroke="#333333" stroke-width="4.7"/>
<polygon points="1352.05,1805.95 1396.15,1805.95 1396.15,1880.2 1385.12,1924.5 1396.15,1969.5 1396.15,1998.75 1352.05,1998.75 1352.05,1969.5 1363.07,1924.5 1352.05,1880.2" fill="#619CFF" stroke="#333333" stroke-width="4.7" stroke-linejoin="miter"/>
<line x1="1363.07" y1="1924.5" x2="1385.12" y2="1924.5" stroke="#333333" stroke-width="8.9"/>
<line x1="1492.3" y1="1660.2" x2="1492.3" y2="1821.65" stroke="#333333" stroke-width="4.7"/>
<line x1="1492.3" y1="1937.95" x2="1492.3" y2="2106.4" stroke="#333333" stroke-width="4.7"/>
<polygon points="1470.25,1821.65 1514.35,1821.65 1514.35,1852 1503.33,1877.2 1514.35,1902.7 1514.35,1937.95 1470.25,1937.95 1470.25,1902.7 1481.27,1877.2 1470.25,1852" fill="#F8766D" stroke="#333333" stroke-width="4.7" stroke-linejoin="miter"/>
<line x1="1481.27" y1="1877.2" x2="1503.33" y2="1877.2" stroke="#333333" stroke-width="8.9"/>
<circle cx="1543.8" cy="1648.9" r="9.7" fill="#aaa" fill-opacity=".75"/><circle cx="1543.8" cy="1648.9" r="8.55" fill="none" stroke="#aaa" stroke-opacity=".75" stroke-width="2.3"/>
<circle cx="1543.8" cy="1698.9" r="9.7" fill="#aaa" fill-opacity=".75"/><circle cx="1543.8" cy="1698.9" r="8.55" fill="none" stroke="#aaa" stroke-opacity=".75" stroke-width="2.3"/>
<circle cx="1543.8" cy="2132.7" r="9.7" fill="#aaa" fill-opacity=".75"/><circle cx="1543.8" cy="2132.7" r="8.55" fill="none" stroke="#aaa" stroke-opacity=".75" stroke-width="2.3"/>
<line x1="1543.8" y1="1758.2" x2="1543.8" y2="1882.15" stroke="#333333" stroke-width="4.7"/>
<line x1="1543.8" y1="1970.45" x2="1543.8" y2="2078.5" stroke="#333333" stroke-width="4.7"/>
<polygon points="1521.75,1882.15 1565.85,1882.15 1565.85,1910.2 1554.83,1928.5 1565.85,1948.2 1565.85,1970.45 1521.75,1970.45 1521.75,1948.2 1532.77,1928.5 1521.75,1910.2" fill="#00BA38" stroke="#333333" stroke-width="4.7" stroke-linejoin="miter"/>
<line x1="1532.77" y1="1928.5" x2="1554.83" y2="1928.5" stroke="#333333" stroke-width="8.9"/>
<circle cx="1595.5" cy="1628.3" r="9.7" fill="#aaa" fill-opacity=".75"/><circle cx="1595.5" cy="1628.3" r="8.55" fill="none" stroke="#aaa" stroke-opacity=".75" stroke-width="2.3"/>
<circle cx="1595.5" cy="1636.5" r="9.7" fill="#aaa" fill-opacity=".75"/><circle cx="1595.5" cy="1636.5" r="8.55" fill="none" stroke="#aaa" stroke-opacity=".75" stroke-width="2.3"/>
<line x1="1595.5" y1="1702" x2="1595.5" y2="1847.95" stroke="#333333" stroke-width="4.7"/>
<line x1="1595.5" y1="1975.15" x2="1595.5" y2="2098.5" stroke="#333333" stroke-width="4.7"/>
<polygon points="1573.45,1847.95 1617.55,1847.95 1617.55,1882.1 1606.53,1912.1 1617.55,1943.2 1617.55,1975.15 1573.45,1975.15 1573.45,1943.2 1584.47,1912.1 1573.45,1882.1" fill="#619CFF" stroke="#333333" stroke-width="4.7" stroke-linejoin="miter"/>
<line x1="1584.47" y1="1912.1" x2="1606.53" y2="1912.1" stroke="#333333" stroke-width="8.9"/>
<line x1="169.5" y1="1411.3" x2="169.5" y2="2271.2" stroke="#000" stroke-width="4.6"/>
<line x1="167.2" y1="2269" x2="435.4" y2="2269" stroke="#000" stroke-width="4.6"/>
<line x1="458" y1="2269" x2="945.5" y2="2269" stroke="#000" stroke-width="4.6"/>
<line x1="968.4" y1="2269" x2="1676.6" y2="2269" stroke="#000" stroke-width="4.6"/>
<line x1="158" y1="1445.5" x2="168" y2="1445.5" stroke="#333333" stroke-width="4.7"/>
<text x="149.5" y="1455.3" font-size="29.33" text-anchor="end">100</text>
<line x1="158" y1="1672.6" x2="168" y2="1672.6" stroke="#333333" stroke-width="4.7"/>
<text x="149.5" y="1682.4" font-size="29.33" text-anchor="end">50</text>
<line x1="158" y1="1899.5" x2="168" y2="1899.5" stroke="#333333" stroke-width="4.7"/>
<text x="149.5" y="1909.3" font-size="29.33" text-anchor="end">0</text>
<line x1="158" y1="2126.6" x2="168" y2="2126.6" stroke="#333333" stroke-width="4.7"/>
<text x="149.5" y="2136.4" font-size="29.33" text-anchor="end">-50</text>
<line x1="302.5" y1="2270" x2="302.5" y2="2279.5" stroke="#333333" stroke-width="4.7"/>
<text x="302.5" y="2310.3" font-size="29.33" text-anchor="middle">NfL</text>
<line x1="590.8" y1="2270" x2="590.8" y2="2279.5" stroke="#333333" stroke-width="4.7"/>
<text x="590.8" y="2310.3" font-size="29.33" text-anchor="middle">YKL40</text>
<line x1="812.4" y1="2270" x2="812.4" y2="2279.5" stroke="#333333" stroke-width="4.7"/>
<text x="812.4" y="2310.3" font-size="29.33" text-anchor="middle">sTREM2</text>
<line x1="1100.9" y1="2270" x2="1100.9" y2="2279.5" stroke="#333333" stroke-width="4.7"/>
<text x="1100.9" y="2310.3" font-size="29.33" text-anchor="middle">SNAP25</text>
<line x1="1322.6" y1="2270" x2="1322.6" y2="2279.5" stroke="#333333" stroke-width="4.7"/>
<text x="1322.6" y="2310.3" font-size="29.33" text-anchor="middle">SYT1</text>
<line x1="1543.8" y1="2270" x2="1543.8" y2="2279.5" stroke="#333333" stroke-width="4.7"/>
<text x="1543.8" y="2310.3" font-size="29.33" text-anchor="middle">NG</text>
<text transform="translate(82.6 1840.4) rotate(-90)" font-size="29.33" text-anchor="middle">Annual % Change</text>
<line x1="1043.1" y1="1403.2" x2="1158.7" y2="1403.2" stroke="#1a1a1a" stroke-width="4.2"/>
<text x="1101" y="1393.3" font-size="20.95" text-anchor="middle">p = 0.02</text>
<line x1="1098.3" y1="1448.9" x2="1155" y2="1448.9" stroke="#1a1a1a" stroke-width="4.2"/>
<text x="1126.9" y="1442.1" font-size="20.95" text-anchor="middle">n.s.</text>
<line x1="1045.4" y1="1496.2" x2="1103.9" y2="1496.2" stroke="#1a1a1a" stroke-width="4.2"/>
<text x="1074.7" y="1489" font-size="20.95" text-anchor="middle">p = 0.04</text>
<line x1="1486.3" y1="1403.2" x2="1601.6" y2="1403.2" stroke="#1a1a1a" stroke-width="4.2"/>
<text x="1543.8" y="1393.3" font-size="20.95" text-anchor="middle">p = 0.07</text>
<line x1="1541.1" y1="1448.9" x2="1597.8" y2="1448.9" stroke="#1a1a1a" stroke-width="4.2"/>
<text x="1569.5" y="1442.1" font-size="20.95" text-anchor="middle">n.s.</text>
<line x1="1488.2" y1="1496.2" x2="1546.8" y2="1496.2" stroke="#1a1a1a" stroke-width="4.2"/>
<text x="1517.9" y="1489" font-size="20.95" text-anchor="middle">p = 0.008</text>
<text x="0.1" y="2346.2" font-size="29.1" text-anchor="start" font-weight="bold">Participants</text>
<text x="0" y="2381.1" font-size="29.33" text-anchor="start">Placebo</text>
<text x="301.2" y="2381.1" font-size="29.33" text-anchor="middle">52</text>
<text x="591.1" y="2381.1" font-size="29.33" text-anchor="middle">58</text>
<text x="814.4" y="2381.1" font-size="29.33" text-anchor="middle">56</text>
<text x="1102.2" y="2381.1" font-size="29.33" text-anchor="middle">57</text>
<text x="1323.3" y="2381.1" font-size="29.33" text-anchor="middle">54</text>
<text x="1543.3" y="2381.1" font-size="29.33" text-anchor="middle">55</text>
<text x="-0.7" y="2416" font-size="29.33" text-anchor="start">200mg</text>
<text x="301.2" y="2416" font-size="29.33" text-anchor="middle">46</text>
<text x="591.1" y="2416" font-size="29.33" text-anchor="middle">49</text>
<text x="814.4" y="2416" font-size="29.33" text-anchor="middle">46</text>
<text x="1102.2" y="2416" font-size="29.33" text-anchor="middle">47</text>
<text x="1323.3" y="2416" font-size="29.33" text-anchor="middle">45</text>
<text x="1543.3" y="2416" font-size="29.33" text-anchor="middle">48</text>
<text x="-0.7" y="2450.9" font-size="29.33" text-anchor="start">400mg</text>
<text x="301.2" y="2450.9" font-size="29.33" text-anchor="middle">44</text>
<text x="591.1" y="2450.9" font-size="29.33" text-anchor="middle">45</text>
<text x="814.4" y="2450.9" font-size="29.33" text-anchor="middle">45</text>
<text x="1102.2" y="2450.9" font-size="29.33" text-anchor="middle">46</text>
<text x="1323.3" y="2450.9" font-size="29.33" text-anchor="middle">46</text>
<text x="1543.3" y="2450.9" font-size="29.33" text-anchor="middle">44</text>
<text x="1745" y="1735.5" font-size="29.33" text-anchor="start">Group</text>
<line x1="1781.2" y1="1760.1" x2="1781.2" y2="1818.1" stroke="#333333" stroke-width="4.7"/>
<rect x="1754" y="1771.1" width="54.4" height="36" fill="#F8766D" stroke="#333333" stroke-width="4.7"/>
<line x1="1754" y1="1789.1" x2="1808.4" y2="1789.1" stroke="#333333" stroke-width="4.7"/>
<text x="1831.5" y="1797.5" font-size="23.47" text-anchor="start">Placebo</text>
<line x1="1781.2" y1="1832.2" x2="1781.2" y2="1890.2" stroke="#333333" stroke-width="4.7"/>
<rect x="1754" y="1843.2" width="54.4" height="36" fill="#00BA38" stroke="#333333" stroke-width="4.7"/>
<line x1="1754" y1="1861.2" x2="1808.4" y2="1861.2" stroke="#333333" stroke-width="4.7"/>
<text x="1831.5" y="1869.6" font-size="23.47" text-anchor="start">200mg</text>
<line x1="1781.2" y1="1904.1" x2="1781.2" y2="1962.1" stroke="#333333" stroke-width="4.7"/>
<rect x="1754" y="1915.1" width="54.4" height="36" fill="#619CFF" stroke="#333333" stroke-width="4.7"/>
<line x1="1754" y1="1933.1" x2="1808.4" y2="1933.1" stroke="#333333" stroke-width="4.7"/>
<text x="1831.5" y="1941.5" font-size="23.47" text-anchor="start">400mg</text>
</svg>
</body>
</html>
